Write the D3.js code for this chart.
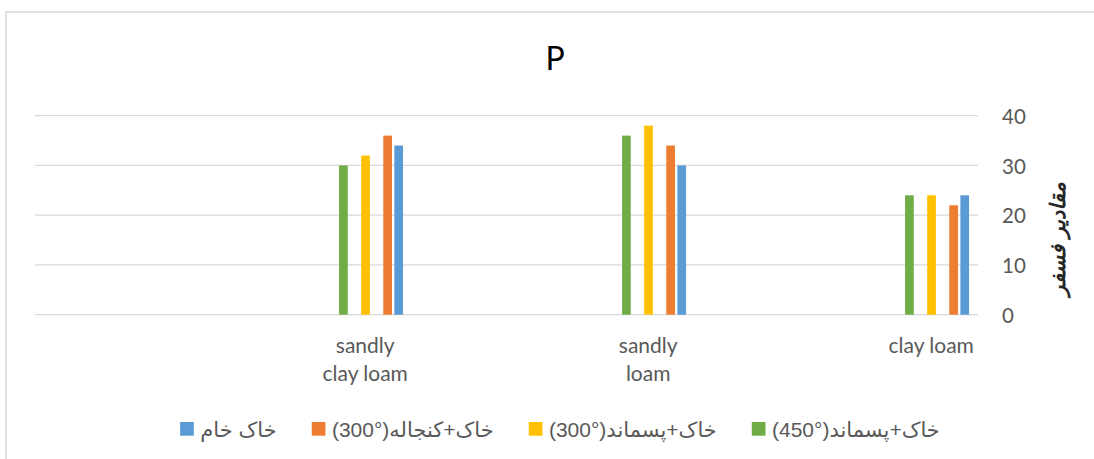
<!DOCTYPE html>
<html><head><meta charset="utf-8">
<script src="https://cdn.jsdelivr.net/npm/d3@7"></script>
<style>body{margin:0;background:#fff}</style>
</head><body>
<svg id="chart" width="1094" height="459"></svg>
<script>
// ---- data ----
const categories = ["clay loam", "sandly loam", "sandly clay loam"];
const categoryLabelLines = [["clay loam"], ["sandly", "loam"], ["sandly", "clay loam"]];
const seriesNames = ["خاک+پسماند(450°)", "خاک+پسماند(300°)", "خاک+کنجاله(300°)", "خاک خام"];
const valuesResidue450 = [24, 36, 30];
const valuesResidue300 = [24, 38, 32];
const valuesCake300 = [22, 34, 36];
const valuesRaw = [24, 30, 34];
const yTicks = [0, 10, 20, 30, 40];
const chartTitle = "P";
const yAxisTitle = "مقادیر فسفر";

// ---- styling / layout ----
const seriesValues = [valuesResidue450, valuesResidue300, valuesCake300, valuesRaw];
const colors = ["#70AD47", "#FFC000", "#ED7D31", "#5B9BD5"];
const W = 1094, H = 459;
const plotLeft = 35, plotRight = 978, yTop = 115.7, yBottom = 314.7;
const svg = d3.select("#chart");

svg.append("path").attr("d", `M6,${H + 5}V12H${W + 5}`)
  .attr("fill", "none").attr("stroke", "#d9d9d9").attr("stroke-width", 1.5);

const y = d3.scaleLinear().domain([0, 40]).range([yBottom, yTop]);
const x = d3.scalePoint().domain(categories).range([932.7, 366.7]);
const slot = d3.scaleBand().domain(d3.range(7)).range([-38.7, 38.7]);
const seriesSlots = [1, 3, 5, 6];
const barWidth = 8.7;

// gridlines
svg.append("g").selectAll("line").data(yTicks).join("line")
  .attr("x1", plotLeft).attr("x2", plotRight)
  .attr("y1", d => y(d)).attr("y2", d => y(d))
  .attr("stroke", "#d9d9d9").attr("stroke-width", 1.3);

// y axis (right)
const yAxis = svg.append("g").attr("transform", `translate(${plotRight},0)`)
  .call(d3.axisRight(y).tickValues(yTicks).tickSize(0).tickPadding(24).tickFormat(d3.format("d")));
yAxis.select(".domain").remove();
yAxis.selectAll("text").attr("font-family", "Lato, 'Open Sans', sans-serif")
  .attr("font-size", 20.5).attr("fill", "#595959").attr("dy", "0.37em");

// bars
seriesValues.forEach((vals, s) => {
  svg.append("g").selectAll("rect").data(vals).join("rect")
    .attr("x", (d, i) => x(categories[i]) + slot(seriesSlots[s]))
    .attr("y", d => y(d))
    .attr("width", barWidth)
    .attr("height", d => y(0) - y(d))
    .attr("fill", colors[s]);
});

// category labels
categories.forEach((c, i) => {
  const t = svg.append("text").attr("text-anchor", "middle")
    .attr("font-family", "Lato, 'Open Sans', sans-serif").attr("font-size", 21).attr("fill", "#595959");
  categoryLabelLines[i].forEach((ln, k) => {
    t.append("tspan").attr("x", x(c) - 1.5).attr("y", 353 + k * 28).text(ln);
  });
});

// title
svg.append("text").attr("x", 555).attr("y", 70).attr("text-anchor", "middle")
  .attr("font-family", "Lato, 'Open Sans', sans-serif").attr("font-size", 32).attr("fill", "#000").text(chartTitle);

// y axis title
svg.append("text").attr("transform", "translate(1058,239) rotate(-90)")
  .attr("text-anchor", "middle").attr("dominant-baseline", "central")
  .attr("font-family", "'DejaVu Sans', sans-serif").attr("font-size", 21)
  .attr("font-weight", "bold").attr("font-style", "italic").attr("fill", "#262626")
  .text(yAxisTitle);

// legend
const lg = svg.append("g");
const items = seriesNames.map((name, s) => {
  const g = lg.append("g");
  // show the parenthesised part on the left, as in the original rendering
  const m = name.match(/^(.*?)(\(.*\))$/);
  const shown = m ? m[2] + m[1] : name;
  const t = g.append("text").attr("font-family", "'Liberation Sans', 'DejaVu Sans', sans-serif")
    .attr("font-size", 21).attr("fill", "#595959").attr("direction", "ltr")
    .attr("text-anchor", "start").attr("y", 437).text(shown);
  const w = t.node().getComputedTextLength();
  return { g, t, w, s };
});
const markerSize = 13.7, markerGap = 6.5, itemGap = 35;
const totalW = d3.sum(items, it => markerSize + markerGap + it.w) + itemGap * (items.length - 1);
let right = 560 + totalW / 2;
items.forEach(it => {
  const textRight = right;
  const textLeft = textRight - it.w;
  it.t.attr("x", textLeft);
  it.g.append("rect").attr("x", textLeft - markerGap - markerSize).attr("y", 422)
    .attr("width", markerSize).attr("height", markerSize).attr("fill", colors[it.s]);
  right = textLeft - markerGap - markerSize - itemGap;
});
</script>
</body></html>
